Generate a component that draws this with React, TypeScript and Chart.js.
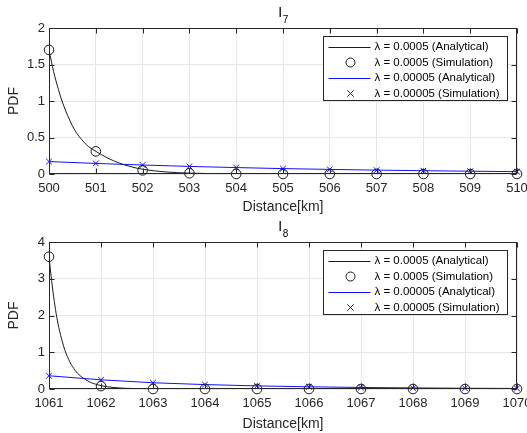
import React, { useEffect, useRef } from 'react';
import { Chart, registerables } from 'chart.js';

Chart.register(...registerables);

// ---------- DATA ----------
// Top subplot (I_7)
const topXTicks = [500, 501, 502, 503, 504, 505, 506, 507, 508, 509, 510];
const topYTicks = [0, 0.5, 1, 1.5, 2];
const topAnalyticalX = [500, 500.1, 500.2, 500.3, 500.4, 500.5, 500.6, 500.7, 500.8, 500.9, 501, 501.25, 501.5, 501.75, 502, 502.5, 503, 503.5, 504, 505, 506, 507, 508, 509, 510];
const topAnalyticalHigh = [1.7, 1.4, 1.16, 0.96, 0.8, 0.66, 0.55, 0.47, 0.4, 0.35, 0.31, 0.22, 0.15, 0.1, 0.065, 0.028, 0.012, 0.005, 0.002, 0, 0, 0, 0, 0, 0];
const topSimHigh = [1.7, 0.31, 0.05, 0.01, 0, 0, 0, 0, 0, 0, 0];
const topAnalyticalLow = [0.17, 0.145, 0.123, 0.104, 0.088, 0.074, 0.063, 0.053, 0.045, 0.038, 0.032];
const topSimLow = [0.17, 0.145, 0.123, 0.104, 0.088, 0.074, 0.063, 0.053, 0.045, 0.038, 0.032];

// Bottom subplot (I_8)
const botXTicks = [1061, 1062, 1063, 1064, 1065, 1066, 1067, 1068, 1069, 1070];
const botYTicks = [0, 1, 2, 3, 4];
const botAnalyticalX = [1061, 1061.05, 1061.1, 1061.15, 1061.2, 1061.3, 1061.4, 1061.5, 1061.6, 1061.7, 1061.8, 1061.9, 1062, 1062.25, 1062.5, 1063, 1064, 1065, 1066, 1067, 1068, 1069, 1070];
const botAnalyticalHigh = [3.6, 2.95, 2.4, 1.95, 1.6, 1.08, 0.74, 0.51, 0.36, 0.26, 0.18, 0.13, 0.09, 0.04, 0.018, 0.004, 0, 0, 0, 0, 0, 0, 0];
const botSimHigh = [3.6, 0.08, 0, 0, 0, 0, 0, 0, 0, 0];
const botAnalyticalLow = [0.36, 0.25, 0.17, 0.12, 0.085, 0.06, 0.042, 0.03, 0.02, 0.015];
const botSimLow = [0.36, 0.25, 0.17, 0.12, 0.085, 0.06, 0.042, 0.03, 0.02, 0.015];

const legendLabels = [
  'λ = 0.0005 (Analytical)',
  'λ = 0.0005 (Simulation)',
  'λ = 0.00005 (Analytical)',
  'λ = 0.00005 (Simulation)',
];
const xTitle = 'Distance[km]';
const yTitle = 'PDF';

// ---------- STYLE ----------
const FONT = '"Liberation Sans", Arial, Helvetica, sans-serif';
const AXIS = '#262626';
const GRID = '#e6e6e6';
const BLACK = '#1a1a1a';
const BLUE = '#1010ff';

const zip = (xs: number[], ys: number[]) => xs.map((x, i) => ({ x, y: ys[i] }));

const framePlugin = {
  id: 'matlabFrame',
  afterDraw(chart: any, _args: any, opts: any) {
    const ctx = chart.ctx as CanvasRenderingContext2D;
    const { left, right, top, bottom } = chart.chartArea;
    const xs = chart.scales.x;
    const ys = chart.scales.y;
    const L = Math.round(left) + 0.5;
    const R = Math.round(right) - 0.5;
    const T = Math.round(top) + 0.5;
    const B = Math.round(bottom) - 0.5;
    ctx.save();
    ctx.strokeStyle = AXIS;
    ctx.lineWidth = 1;
    // inward ticks
    const tl = 5;
    ctx.beginPath();
    xs.ticks.forEach((t: any) => {
      const p = Math.round(xs.getPixelForValue(t.value)) + 0.5;
      ctx.moveTo(p, B); ctx.lineTo(p, B - tl);
      ctx.moveTo(p, T); ctx.lineTo(p, T + tl);
    });
    ys.ticks.forEach((t: any) => {
      const p = Math.round(ys.getPixelForValue(t.value)) + 0.5;
      ctx.moveTo(L, p); ctx.lineTo(L + tl, p);
      ctx.moveTo(R, p); ctx.lineTo(R - tl, p);
    });
    ctx.stroke();
    // box
    ctx.strokeRect(L, T, R - L, B - T);

    // title with subscript
    const cx = (left + right) / 2;
    ctx.fillStyle = '#000';
    ctx.textBaseline = 'alphabetic';
    ctx.textAlign = 'left';
    ctx.font = `14px ${FONT}`;
    const wMain = ctx.measureText(opts.titleMain).width;
    ctx.font = `10px ${FONT}`;
    const wSub = ctx.measureText(opts.titleSub).width;
    const x0 = cx - (wMain + wSub) / 2;
    const base = top - 11.5;
    ctx.font = `14px ${FONT}`;
    ctx.fillText(opts.titleMain, x0, base);
    ctx.font = `10px ${FONT}`;
    ctx.fillText(opts.titleSub, x0 + wMain + 0.5, base + 6);

    // legend
    const bx = Math.round(right) - 194 + 0.5;
    const by = Math.round(top) + 8.5;
    const bw = 184;
    const bh = 64;
    ctx.fillStyle = '#fff';
    ctx.fillRect(bx, by, bw, bh);
    ctx.strokeStyle = AXIS;
    ctx.strokeRect(bx, by, bw, bh);
    const rows = [10.5, 26, 41, 57];
    const kinds = ['line', 'circle', 'line', 'cross'];
    const colors = [BLACK, BLACK, BLUE, BLUE];
    ctx.font = `11.5px ${FONT}`;
    ctx.textBaseline = 'middle';
    for (let i = 0; i < 4; i++) {
      const ry = by + rows[i];
      const col = colors[i];
      ctx.strokeStyle = col;
      ctx.lineWidth = 1;
      if (kinds[i] === 'line') {
        ctx.beginPath();
        ctx.moveTo(bx + 5, Math.round(ry) + 0.5);
        ctx.lineTo(bx + 47, Math.round(ry) + 0.5);
        ctx.stroke();
      } else if (kinds[i] === 'circle') {
        ctx.beginPath();
        ctx.arc(bx + 27, ry, 4.5, 0, Math.PI * 2);
        ctx.stroke();
      } else {
        const s = 3.2;
        ctx.beginPath();
        ctx.moveTo(bx + 27 - s, ry - s); ctx.lineTo(bx + 27 + s, ry + s);
        ctx.moveTo(bx + 27 - s, ry + s); ctx.lineTo(bx + 27 + s, ry - s);
        ctx.stroke();
      }
      ctx.fillStyle = '#000';
      ctx.fillText(opts.labels[i], bx + 51, ry);
    }
    ctx.restore();
  },
};

function makeConfig(p: {
  xTicks: number[]; yTicks: number[];
  ax: number[]; aHigh: number[]; sHigh: number[]; aLow: number[]; sLow: number[];
  padTop: number; xAxisH: number; sub: string;
}) {
  const xMin = p.xTicks[0];
  const xMax = p.xTicks[p.xTicks.length - 1];
  const yMin = p.yTicks[0];
  const yMax = p.yTicks[p.yTicks.length - 1];
  const yStep = p.yTicks[1] - p.yTicks[0];
  return {
    type: 'line' as const,
    data: {
      datasets: [
        {
          label: legendLabels[0],
          data: zip(p.ax, p.aHigh),
          borderColor: BLACK, borderWidth: 1, pointRadius: 0,
          cubicInterpolationMode: 'monotone' as const, fill: false,
        },
        {
          label: legendLabels[1],
          data: zip(p.xTicks, p.sHigh),
          showLine: false, borderColor: BLACK, backgroundColor: 'rgba(0,0,0,0)',
          pointStyle: 'circle', pointRadius: 4.8, pointBorderWidth: 1, clip: false,
        },
        {
          label: legendLabels[2],
          data: zip(p.xTicks, p.aLow),
          borderColor: BLUE, borderWidth: 1, pointRadius: 0, fill: false,
        },
        {
          label: legendLabels[3],
          data: zip(p.xTicks, p.sLow),
          showLine: false, borderColor: BLUE, backgroundColor: BLUE,
          pointStyle: 'crossRot', pointRadius: 4, pointBorderWidth: 1, clip: false,
        },
      ],
    },
    options: {
      animation: false as const,
      responsive: false,
      devicePixelRatio: 1,
      layout: { padding: { top: p.padTop, right: 10, left: 0, bottom: 0 } },
      plugins: {
        legend: { display: false },
        tooltip: { enabled: false },
        title: { display: false },
        matlabFrame: { titleMain: 'I', titleSub: p.sub, labels: legendLabels },
      },
      scales: {
        x: {
          type: 'linear' as const,
          min: xMin, max: xMax,
          afterFit: (s: any) => { s.height = p.xAxisH; s.paddingLeft = 0; s.paddingRight = 0; },
          ticks: {
            stepSize: 1, autoSkip: false, maxRotation: 0, padding: 7,
            color: AXIS, font: { family: FONT, size: 13 },
            callback: (v: any) => String(v),
          },
          grid: { color: GRID, drawTicks: false, lineWidth: 1 },
          border: { display: false },
          title: {
            display: true, text: xTitle, color: AXIS,
            font: { family: FONT, size: 14 }, padding: { top: 2, bottom: 0 },
          },
        },
        y: {
          type: 'linear' as const,
          min: yMin, max: yMax,
          afterFit: (s: any) => { s.width = 49; s.paddingTop = 0; s.paddingBottom = 0; },
          ticks: {
            stepSize: yStep, padding: 4,
            color: AXIS, font: { family: FONT, size: 13 },
            callback: (v: any) => String(v),
          },
          grid: { color: GRID, drawTicks: false, lineWidth: 1 },
          border: { display: false },
          title: {
            display: true, text: yTitle, color: AXIS,
            font: { family: FONT, size: 14 }, padding: { top: 6, bottom: 0 },
          },
        },
      },
    },
    plugins: [framePlugin],
  };
}

function Plot(props: { cfg: any; w: number; h: number }) {
  const ref = useRef<HTMLCanvasElement | null>(null);
  useEffect(() => {
    if (!ref.current) return;
    const chart = new Chart(ref.current, props.cfg);
    return () => chart.destroy();
  }, []);
  return (
    <canvas ref={ref} width={props.w} height={props.h}
      style={{ display: 'block', width: props.w, height: props.h }} />
  );
}

export default function App() {
  const topCfg = makeConfig({
    xTicks: topXTicks, yTicks: topYTicks,
    ax: topAnalyticalX, aHigh: topAnalyticalHigh, sHigh: topSimHigh,
    aLow: topAnalyticalLow, sLow: topSimLow,
    padTop: 28, xAxisH: 42, sub: '7',
  });
  const botCfg = makeConfig({
    xTicks: botXTicks, yTicks: botYTicks,
    ax: botAnalyticalX, aHigh: botAnalyticalHigh, sHigh: botSimHigh,
    aLow: botAnalyticalLow, sLow: botSimLow,
    padTop: 26, xAxisH: 44, sub: '8',
  });
  return (
    <div style={{ position: 'absolute', left: 0, top: 0, width: 527, height: 433, background: '#fff', overflow: 'hidden' }}>
      <Plot cfg={topCfg} w={527} h={216} />
      <Plot cfg={botCfg} w={527} h={217} />
    </div>
  );
}
